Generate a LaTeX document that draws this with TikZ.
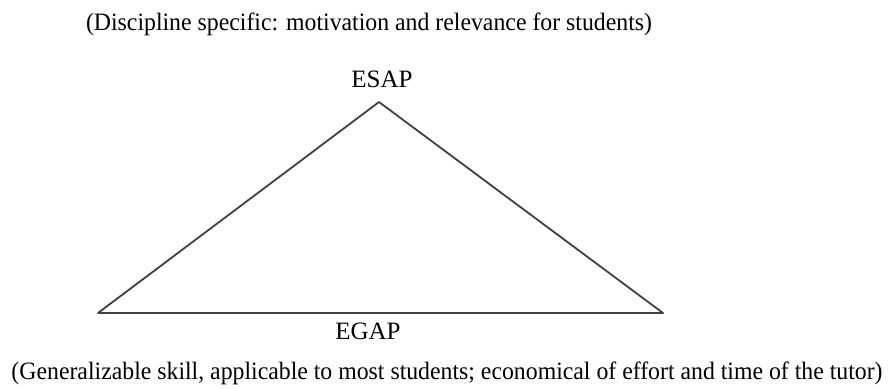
\documentclass[tikz,border=0pt]{standalone}
\usepackage{fontspec}
\setmainfont{Liberation Serif}
\usepackage{graphicx}
\begin{document}
\begin{tikzpicture}[x=1pt,y=-1pt,
  lbl/.style={inner sep=0pt, anchor=base, font=\fontsize{25}{28}\selectfont, text=black},
  edge/.style={draw=black!75, line width=1.8pt, line join=round}]
\useasboundingbox (0,0) rectangle (888,388);
\node[lbl] (top) at (369,30) {\resizebox{566pt}{\height}{(Discipline specific: motivation and relevance for students)}};
\node[lbl] (esap) at (382,87) {ESAP};
\coordinate (apex) at (379,102);
\coordinate (left) at (98,313);
\coordinate (right) at (663,313);
\draw[edge] (left) -- (apex) -- (right) -- cycle;
\node[lbl] (egap) at (368,339) {EGAP};
\node[lbl] (bot) at (447,379) {\resizebox{871pt}{\height}{(Generalizable skill, applicable to most students; economical of effort and time of the tutor)}};
\end{tikzpicture}
\end{document}
